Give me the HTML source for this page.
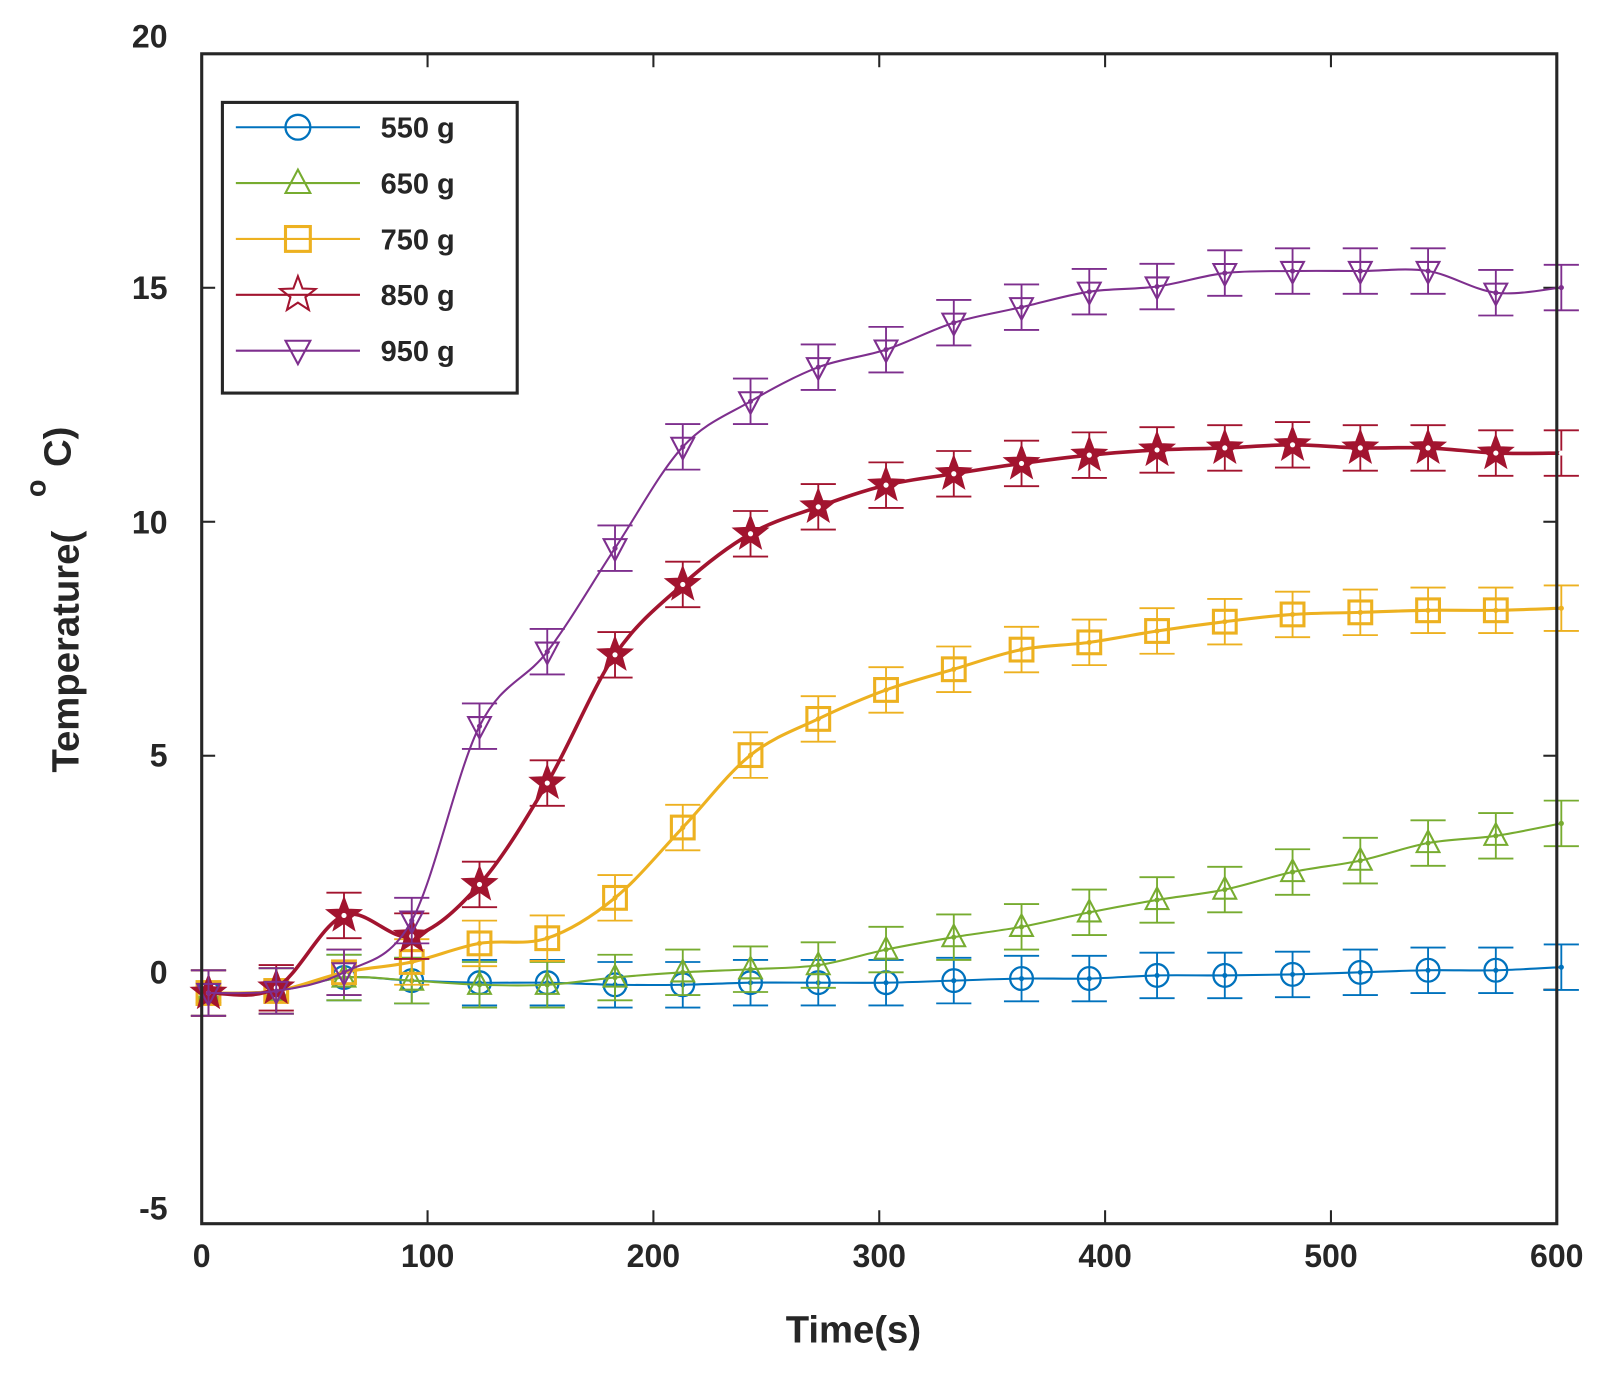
<!DOCTYPE html>
<html><head><meta charset="utf-8"><style>
html,body{margin:0;padding:0;background:#fff;}
svg{display:block;}
text{font-family:"Liberation Sans",Arial,sans-serif;font-weight:bold;fill:#262626;}
</style></head><body>
<svg id="s" width="1623" height="1383" viewBox="0 0 1569 1337" preserveAspectRatio="none" xmlns="http://www.w3.org/2000/svg"></svg>
<script>
const s=document.getElementById('s');let h='';
const X0=195,X1=1505,Y0=52,Y1=1183;
const xs=t=>X0+(X1-X0)*t/600, ys=v=>Y0+(20-v)*(Y1-Y0)/25;
for(let t=0;t<=600;t+=100){const x=xs(t);h+=`<line x1="${x}" y1="${Y1}" x2="${x}" y2="${Y1-13}" stroke="#262626" stroke-width="2"/><line x1="${x}" y1="${Y0}" x2="${x}" y2="${Y0+13}" stroke="#262626" stroke-width="2"/><text x="${x}" y="${Y1+42}" font-size="31" text-anchor="middle">${t}</text>`;}
const lab={20:35,15:278,10:505,5:730,0:940,'-5':1168};
for(let v=-5;v<=20;v+=5){const y=ys(v);h+=`<line x1="${X0}" y1="${y}" x2="${X0+13}" y2="${y}" stroke="#262626" stroke-width="2"/><line x1="${X1}" y1="${y}" x2="${X1-13}" y2="${y}" stroke="#262626" stroke-width="2"/><text x="162" y="${lab[v]+11}" font-size="31" text-anchor="end">${v}</text>`;}
const tm=[3,33,63,93,123,153,183,213,243,273,303,333,363,393,423,453,483,513,543,573,602];
const S=[
{c:'#0072bd',w:2,m:'o',y:[960,958,945,948,950,950,952,952,950,950,950,948,946,946,943,943,942,940,938,938,935]},
{c:'#77ac30',w:2,m:'t',y:[960,958,945,948,952,952,945,940,937,933,918,906,896,882,870,860,843,832,815,808,796]},
{c:'#edb120',w:3,m:'s',y:[960,958,940,930,912,907,868,800,730,695,667,647,628,621,610,601,594,592,590,590,588]},
{c:'#a2142f',w:3.5,m:'p',y:[960,955,885,905,855,757,633,565,516,490,469,458,448,440,435,433,430,433,433,438,438]},
{c:'#7e2f8e',w:2,m:'v',y:[960,958,940,890,702,630,530,432,388,355,338,312,297,282,277,264,262,262,262,283,278]}];
function star(cx,cy,R){let p=[];for(let i=0;i<10;i++){const r=i%2?R*0.42:R,a=-Math.PI/2+i*Math.PI/5;p.push((cx+r*Math.cos(a)).toFixed(1)+','+(cy+r*Math.sin(a)).toFixed(1));}return p.join(' ');}
function mk(m,x,y,c,sz){const r=sz||11;
 if(m=='o')return `<circle cx="${x}" cy="${y}" r="${r}" fill="none" stroke="${c}" stroke-width="2.2"/>`;
 if(m=='t')return `<polygon points="${x},${y-r-1} ${x-r},${y+r*0.8} ${x+r},${y+r*0.8}" fill="none" stroke="${c}" stroke-width="2"/>`;
 if(m=='v')return `<polygon points="${x},${y+r+1} ${x-r},${y-r*0.8} ${x+r},${y-r*0.8}" fill="none" stroke="${c}" stroke-width="2"/>`;
 if(m=='s')return `<rect x="${x-r}" y="${y-r}" width="${2*r}" height="${2*r}" fill="none" stroke="${c}" stroke-width="3"/>`;
 if(m=='p')return `<polygon points="${star(x,y,r*1.5)}" fill="${c}" stroke="${c}" stroke-width="2"/>`;}
S.forEach(se=>{
 const P=tm.map((t,i)=>[xs(t),se.y[i]]);
 let d=`M${P[0][0]},${P[0][1]}`;
 for(let i=0;i<P.length-1;i++){const p0=P[Math.max(0,i-1)],p1=P[i],p2=P[i+1],p3=P[Math.min(P.length-1,i+2)];
  d+=` C${p1[0]+(p2[0]-p0[0])/6},${p1[1]+(p2[1]-p0[1])/6} ${p2[0]-(p3[0]-p1[0])/6},${p2[1]-(p3[1]-p1[1])/6} ${p2[0]},${p2[1]}`;}
 h+=`<path d="${d}" fill="none" stroke="${se.c}" stroke-width="${se.w}"/>`;
 P.forEach(([x,y])=>{const e=22;
  h+=`<g stroke="${se.c}" stroke-width="1.8"><line x1="${x}" y1="${y-e}" x2="${x}" y2="${y+e}"/><line x1="${x-17}" y1="${y-e}" x2="${x+17}" y2="${y-e}"/><line x1="${x-17}" y1="${y+e}" x2="${x+17}" y2="${y+e}"/></g>`;
  if(x<1500)h+=mk(se.m,x,y,se.c);
  h+=`<circle cx="${x}" cy="${y}" r="2.5" fill="${se.m=='p'?'#fff':se.c}"/>`;});
});
h+=`<rect x="${X0}" y="${Y0}" width="${X1-X0}" height="${Y1-Y0}" fill="none" stroke="#262626" stroke-width="3"/>`;
h+=`<rect x="215" y="99" width="285" height="281" fill="#fff" stroke="#262626" stroke-width="3"/>`;
const L=['550 g','650 g','750 g','850 g','950 g'];
S.forEach((se,i)=>{const y=123+i*54;h+=`<line x1="228" y1="${y}" x2="348" y2="${y}" stroke="${se.c}" stroke-width="2"/>`+mk(se.m,288,y,se.c,12).replace('fill="'+se.c+'"','fill="none"')+`<text x="368" y="${y+10}" font-size="28">${L[i]}</text>`;});
h+=`<text x="825" y="1298" font-size="37" text-anchor="middle">Time(s)</text>`;
h+=`<text transform="translate(76,630) rotate(-90)" font-size="37" text-anchor="middle">Temperature(</text>`;
h+=`<text transform="translate(68,432) rotate(-90)" font-size="37" text-anchor="middle">C)</text>`;
h+=`<text transform="translate(44,472) rotate(-90)" font-size="28" text-anchor="middle">o</text>`;
s.innerHTML=h;
</script>
</body></html>
